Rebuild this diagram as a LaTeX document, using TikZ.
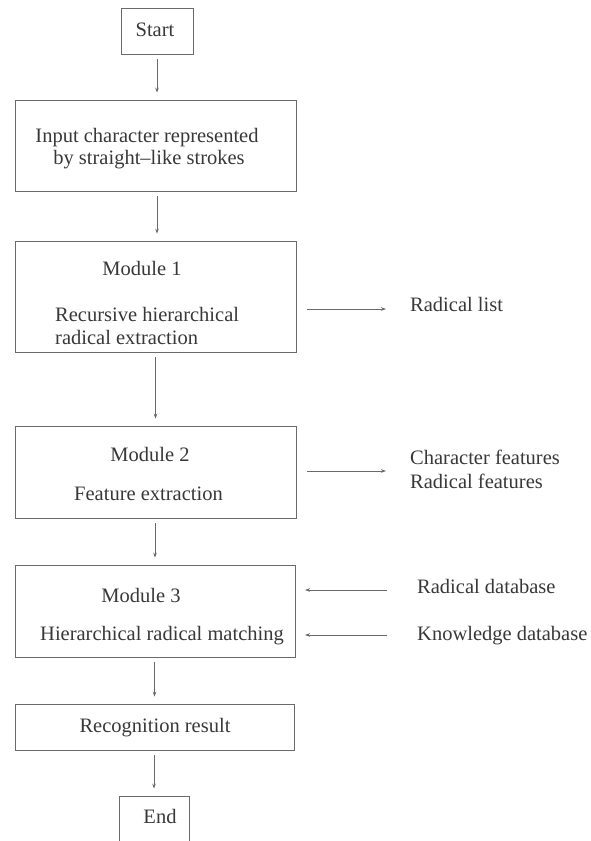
\documentclass[tikz,border=0pt]{standalone}
\usepackage{fontspec}
\setmainfont{Liberation Serif}
\usetikzlibrary{arrows.meta}
\definecolor{inkline}{HTML}{6A6A6A}
\definecolor{inktext}{HTML}{383838}
\begin{document}
\begin{tikzpicture}[x=1pt,y=-1pt,
  box/.style={draw=inkline, line width=0.8pt, inner sep=0pt, minimum width=#1},
  label/.style={inner sep=0pt, text=inktext, font=\fontsize{20.5}{24}\selectfont,
    text height=14pt, text depth=4pt},
  flow/.style={draw=inkline, line width=0.7pt, -{Stealth[length=5pt,width=3.6pt]},
    shorten <=5pt, shorten >=7pt},
  side/.style={draw=inkline, line width=0.7pt, -{Stealth[length=5pt,width=3.6pt]}}]
  \clip (0,0) rectangle (590,841);

  % process boxes
  \node[box=72pt,  minimum height=46pt]  (start) at (157,31)     {};
  \node[box=281pt, minimum height=91pt]  (input) at (155.5,145.5) {};
  \node[box=281pt, minimum height=111pt] (m1)    at (155.5,296.5) {};
  \node[box=281pt, minimum height=92pt]  (m2)    at (155.5,472)  {};
  \node[box=280pt, minimum height=92pt]  (m3)    at (155,611)    {};
  \node[box=279pt, minimum height=46pt]  (rec)   at (154.5,727)  {};
  \node[box=70pt,  minimum height=54pt]  (end)   at (154,823)    {};

  % box texts
  \node[label] (tstart) at (155,31) {Start};
  \node[label] (tin1) at (147,137) {Input character represented};
  \node[label] (tin2) at (149,159) {by straight--like strokes};
  \node[label] (tm1) at (142,270) {Module 1};
  \node[label, anchor=west] (tm1a) at (55,316) {Recursive hierarchical};
  \node[label, anchor=west] (tm1b) at (55,339) {radical extraction};
  \node[label] (tm2) at (150,456) {Module 2};
  \node[label] (tm2a) at (148.5,495) {Feature extraction};
  \node[label] (tm3) at (141,597) {Module 3};
  \node[label] (tm3a) at (162,635) {Hierarchical radical matching};
  \node[label] (trec) at (155,727) {Recognition result};
  \node[label] (tend) at (160,818) {End};

  % outputs and inputs on the right
  \node[label, anchor=west] (radlist) at (410,306) {Radical list};
  \node[label, anchor=west] (charfeat) at (410,459) {Character features};
  \node[label, anchor=west] (radfeat) at (410,483) {Radical features};
  \node[label, anchor=west] (raddb) at (417,588) {Radical database};
  \node[label, anchor=west] (knowdb) at (417,635) {Knowledge database};

  % main flow
  \draw[flow] (start.south) -- (start.south |- input.north);
  \draw[flow] (start.south |- input.south) -- (start.south |- m1.north);
  \draw[flow] ([xshift=-1.5pt]start.south |- m1.south) -- ([xshift=-1.5pt]start.south |- m2.north);
  \draw[flow] ([xshift=-2pt]start.south |- m2.south) -- ([xshift=-2pt]start.south |- m3.north);
  \draw[flow] ([xshift=-2.5pt]start.south |- m3.south) -- ([xshift=-2.5pt]start.south |- rec.north);
  \draw[flow] ([xshift=-3pt]start.south |- rec.south) -- ([xshift=-3pt]start.south |- end.north);

  % side connectors
  \coordinate (r1s) at (307,309);  \coordinate (r1e) at (386,309);
  \coordinate (r2s) at (307,471);  \coordinate (r2e) at (386,471);
  \coordinate (r3s) at (387,590);  \coordinate (r3e) at (305,590);
  \coordinate (r4s) at (387,635);  \coordinate (r4e) at (305,635);
  \draw[side] (r1s) -- (r1e);
  \draw[side] (r2s) -- (r2e);
  \draw[side] (r3s) -- (r3e);
  \draw[side] (r4s) -- (r4e);
\end{tikzpicture}
\end{document}
